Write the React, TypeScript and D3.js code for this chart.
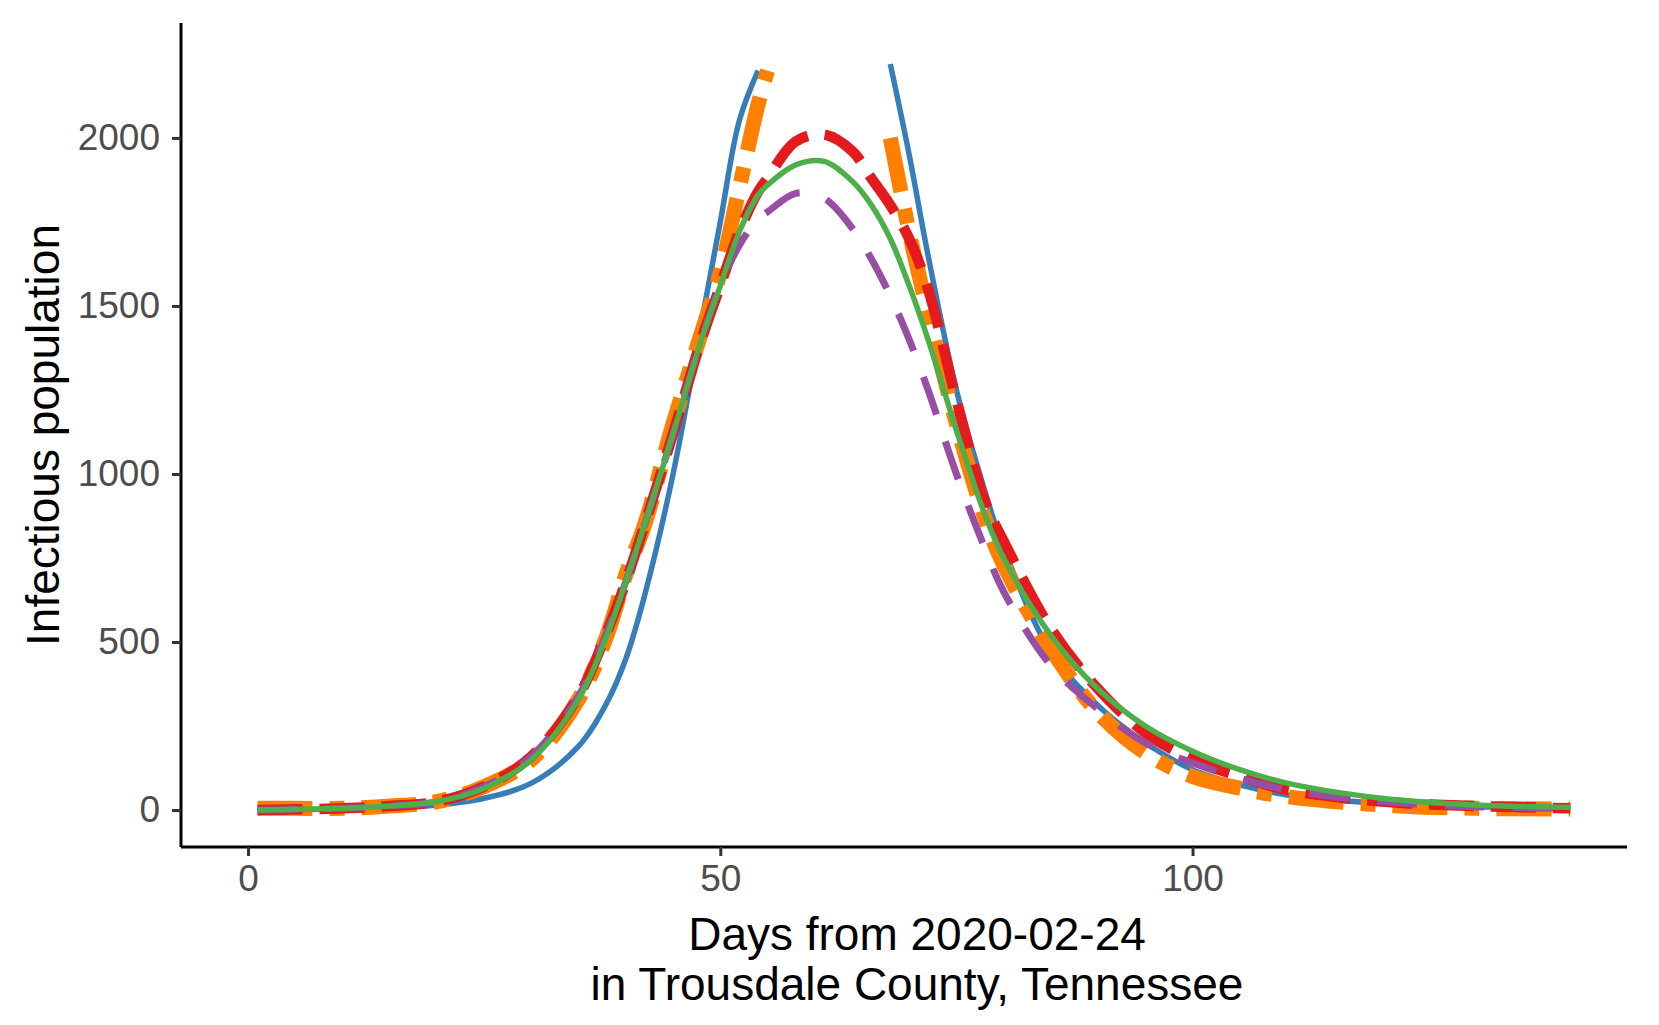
import React, { useRef, useEffect } from 'react';
import * as d3 from 'd3';

const days = [1, 5, 10, 15, 20, 25, 30, 35, 38, 40, 42, 45, 48, 50, 52, 54, 55, 58, 61, 64, 66, 68, 70, 72, 75, 78, 80, 85, 90, 95, 100, 105, 110, 120, 130, 140];

const blue = [0, 1, 3, 7, 15, 35, 80, 190, 320, 450, 640, 1000, 1450, 1750, 2050, 2200, 2350, 2700, 2820, 2650, 2450, 2220, 1950, 1650, 1250, 950, 780, 470, 310, 200, 120, 75, 45, 20, 10, 5];
const orange = [5, 5, 5, 12, 25, 70, 150, 330, 520, 700, 850, 1150, 1420, 1600, 1850, 2100, 2200, 2500, 2600, 2450, 2250, 2000, 1720, 1480, 1150, 870, 730, 480, 290, 170, 100, 65, 40, 15, 5, 3];
const red = [0, 2, 5, 12, 25, 70, 160, 340, 530, 680, 850, 1120, 1400, 1560, 1720, 1840, 1880, 1990, 2010, 1960, 1880, 1800, 1700, 1550, 1220, 920, 800, 540, 360, 230, 150, 100, 60, 25, 12, 5];
const purple = [0, 2, 5, 12, 25, 70, 160, 340, 530, 680, 850, 1120, 1400, 1560, 1680, 1760, 1780, 1835, 1820, 1730, 1640, 1530, 1400, 1250, 1000, 780, 650, 430, 300, 200, 140, 95, 60, 25, 10, 5];
const green = [0, 2, 5, 12, 25, 65, 150, 330, 520, 680, 850, 1120, 1400, 1560, 1720, 1830, 1860, 1920, 1930, 1870, 1800, 1700, 1560, 1400, 1130, 880, 750, 520, 360, 250, 175, 120, 80, 35, 15, 8];

const series = [
  { name: 'blue', values: blue, color: '#377EB8', width: 5.5, dash: null },
  { name: 'orange', values: orange, color: '#FF7F00', width: 15, dash: '55,17,15,17' },
  { name: 'red', values: red, color: '#E41A1C', width: 10.5, dash: '45,17' },
  { name: 'purple', values: purple, color: '#984EA3', width: 7, dash: '40,28' },
  { name: 'green', values: green, color: '#4DAF4A', width: 5.5, dash: null },
];

const xTicks = [0, 50, 100];
const yTicks = [0, 500, 1000, 1500, 2000];
const yLimit = 2240;

export default function App() {
  const ref = useRef<SVGSVGElement | null>(null);

  useEffect(() => {
    document.body.style.margin = '0';
    if (!ref.current) return;
    const svg = d3.select(ref.current);
    svg.selectAll('*').remove();

    const left = 181, right = 1627, top = 23, bottom = 847;
    const x = d3.scaleLinear().domain([-7.1, 146]).range([left, right]);
    const y = d3.scaleLinear().domain([-110, 2342]).range([bottom, top]);

    const line = d3.line<[number, number]>()
      .defined(d => d[1] <= yLimit)
      .x(d => x(d[0]))
      .y(d => y(d[1]))
      .curve(d3.curveCatmullRom);

    series.forEach(s => {
      const pts = days.map((d, i) => [d, s.values[i]] as [number, number]);
      svg.append('path')
        .attr('d', line(pts))
        .attr('fill', 'none')
        .attr('stroke', s.color)
        .attr('stroke-width', s.width)
        .attr('stroke-dasharray', s.dash)
        .attr('stroke-linejoin', 'round');
    });

    const font = '"Liberation Sans", Arial, sans-serif';
    const fmt = d3.format('d');

    const xa = svg.append('g').attr('transform', `translate(0,${bottom})`)
      .call(d3.axisBottom(x).tickValues(xTicks).tickFormat(fmt).tickSize(9).tickPadding(9));
    const ya = svg.append('g').attr('transform', `translate(${left},0)`)
      .call(d3.axisLeft(y).tickValues(yTicks).tickFormat(fmt).tickSize(9).tickPadding(12));
    [xa, ya].forEach(a => {
      a.select('.domain').attr('stroke', '#000').attr('stroke-width', 3)
        .attr('d', a === xa ? `M${left},0H${right}` : `M0,${bottom}V${top}`);
      a.selectAll('.tick line').attr('stroke', '#333').attr('stroke-width', 3);
      a.selectAll('.tick text').attr('fill', '#4D4D4D').style('font-size', '37px').style('font-family', font);
    });

    svg.append('text').attr('x', 917).attr('y', 950).attr('text-anchor', 'middle')
      .style('font-size', '46px').style('font-family', font).text('Days from 2020-02-24');
    svg.append('text').attr('x', 917).attr('y', 1000).attr('text-anchor', 'middle')
      .style('font-size', '46px').style('font-family', font).text('in Trousdale County, Tennessee');
    svg.append('text').attr('transform', `translate(59,${(top + bottom) / 2}) rotate(-90)`)
      .attr('text-anchor', 'middle')
      .style('font-size', '46px').style('font-family', font).text('Infectious population');
  }, []);

  return <svg ref={ref} width={1659} height={1025} style={{ display: 'block', background: '#fff' }} />;
}
